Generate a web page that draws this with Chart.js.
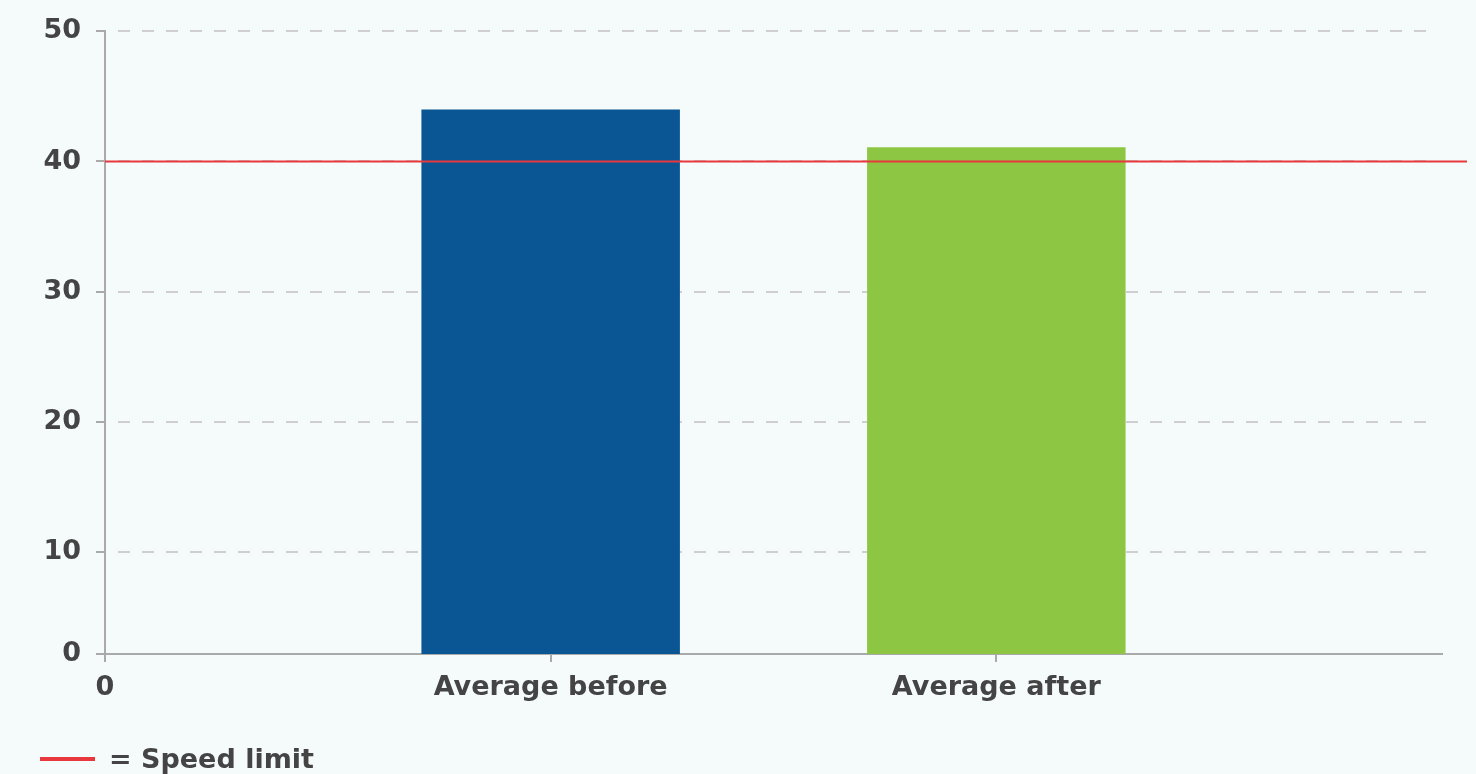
<!DOCTYPE html>
<html>
<head>
<meta charset="utf-8">
<script src="https://cdn.jsdelivr.net/npm/chart.js@4.4.0/dist/chart.umd.min.js"></script>
<style>
  html, body { margin: 0; padding: 0; background: #f5fafb; }
  #wrap { position: relative; width: 1476px; height: 774px; }
  #legend { position: absolute; left: 40px; top: 743px; font: bold 27px "DejaVu Sans", sans-serif; color: #444; white-space: nowrap; }
  #legend span.swatch { display: inline-block; width: 55px; height: 4px; background: #e8383d; vertical-align: middle; margin-right: 14px; position: relative; top: -2px; }
</style>
</head>
<body>
<div id="wrap">
  <canvas id="chart" width="1476" height="774"></canvas>
  <div id="legend"><span class="swatch"></span>= Speed limit</div>
</div>
<script>
// data
var categories = ['0', 'Average before', 'Average after', ''];
var speeds = [null, 44, 41.1, null];
var barColors = ['#0a5694', '#0a5694', '#8dc642', '#8dc642'];
var speedLimit = 40;
var yMin = 2.2;
var yTickValues = [yMin, 10, 20, 30, 40, 50];
var yTickLabels = ['0', '10', '20', '30', '40', '50'];

var textColor = '#444';
var font = { family: '"DejaVu Sans", sans-serif', weight: 'bold', size: 27 };

// dashed grid + speed limit line
var extras = {
	id: 'extras',
	beforeDatasetsDraw: function(chart) {
		var ctx = chart.ctx, y = chart.scales.y;
		ctx.save();
		ctx.strokeStyle = '#cfcfcf';
		ctx.lineWidth = 2;
		ctx.setLineDash([12, 12]);
		yTickValues.forEach(function(v, i) {
			if (i === 0) return;
			var py = Math.round(y.getPixelForValue(v));
			ctx.beginPath();
			ctx.moveTo(chart.chartArea.left + 13, py);
			ctx.lineTo(chart.chartArea.right - 9, py);
			ctx.stroke();
		});
		ctx.restore();
	},
	afterDatasetsDraw: function(chart) {
		var ctx = chart.ctx, y = chart.scales.y;
		var py = y.getPixelForValue(speedLimit);
		ctx.save();
		ctx.strokeStyle = '#e8383d';
		ctx.lineWidth = 2;
		ctx.beginPath();
		ctx.moveTo(chart.chartArea.left, py);
		ctx.lineTo(chart.width - 9, py);
		ctx.stroke();
		ctx.restore();
	}
};

new Chart(document.getElementById('chart'), {
	type: 'bar',
	data: {
		labels: categories,
		datasets: [{
			label: 'Speed',
			data: speeds,
			backgroundColor: barColors,
			barPercentage: 0.58,
			categoryPercentage: 1
		}]
	},
	options: {
		responsive: false,
		animation: false,
		layout: { padding: { top: 7, right: 34, bottom: 60, left: 0 } },
		plugins: { legend: { display: false }, tooltip: { enabled: false } },
		scales: {
			x: {
				offset: false,
				grid: {
					offset: false,
					drawOnChartArea: false,
					tickLength: 8,
					lineWidth: 2,
					color: function(c) { return c.index === 3 ? 'rgba(0,0,0,0)' : '#aaa'; }
				},
				border: { color: '#aaa', width: 2 },
				ticks: { color: textColor, font: font, padding: 10, maxRotation: 0, autoSkip: false },
				afterFit: function(s) { s.height = 60; }
			},
			y: {
				min: yMin,
				max: 50,
				afterBuildTicks: function(s) {
					s.ticks = yTickValues.map(function(v) { return { value: v }; });
				},
				grid: { drawOnChartArea: false, tickLength: 9, lineWidth: 2, color: '#aaa' },
				border: { color: '#aaa', width: 2 },
				ticks: {
					color: textColor, font: font, padding: 15,
					callback: function(v, i) { return yTickLabels[i]; }
				},
				afterFit: function(s) { s.width = 105; }
			}
		}
	},
	plugins: [extras]
});
</script>
</body>
</html>
